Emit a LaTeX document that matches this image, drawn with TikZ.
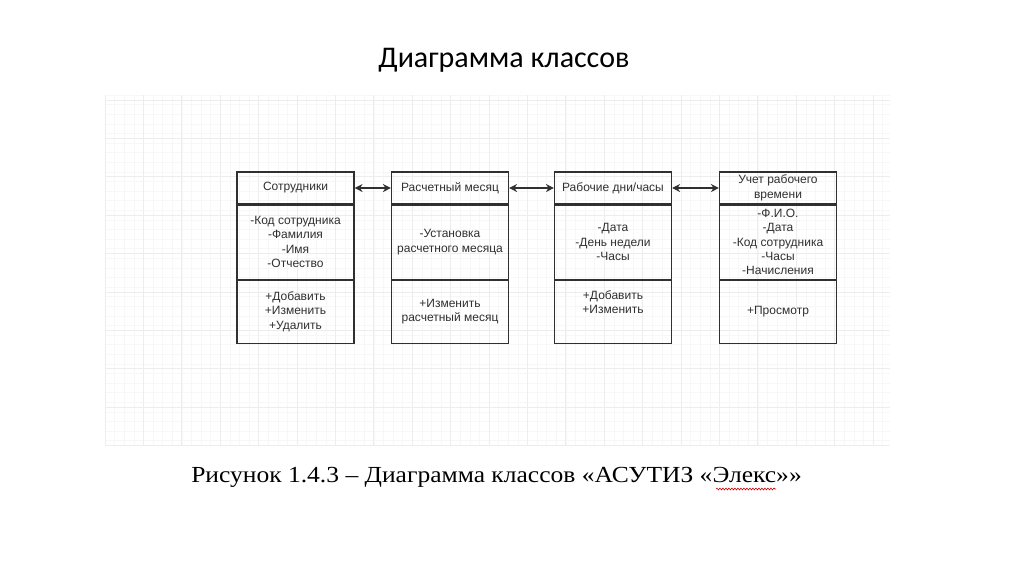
\documentclass[tikz,border=0pt]{standalone}
\usepackage{fontspec}
\setmainfont{Liberation Sans}
\newfontfamily\titlefont{Carlito}
\newfontfamily\capfont{Liberation Serif}
\usetikzlibrary{arrows.meta,decorations.pathmorphing}
\definecolor{ink}{HTML}{303030}
\tikzset{
  comp/.style={draw=ink, line width=1.1pt, minimum width=117pt, inner sep=0pt, align=center,
    font=\fontsize{12}{14.5}\selectfont, text=ink},
  link/.style={draw=ink, line width=1.2pt, {Stealth[length=8pt,width=8pt]}-{Stealth[length=8pt,width=8pt]}},
  minorgrid/.style={draw=black!3, line width=0.5pt},
  majorgrid/.style={draw=black!7, line width=0.7pt}
}
\begin{document}
\begin{tikzpicture}[x=1pt,y=-1pt]
\useasboundingbox[fill=white] (0,0) rectangle (1024,574);
% background grid
\begin{scope}
\clip (105,95) rectangle (890,445);
\foreach \i in {0,...,82} { \draw[minorgrid] (105+\i*9.6,95) -- (105+\i*9.6,445); }
\foreach \i in {0,...,37} { \draw[minorgrid] (105,95+\i*9.6) -- (890,95+\i*9.6); }
\foreach \i in {0,...,21} { \draw[majorgrid] (105+\i*38.4,95) -- (105+\i*38.4,445); }
\foreach \i in {0,...,10} { \draw[majorgrid] (105,100+\i*38.4) -- (890,100+\i*38.4); }
\end{scope}
% title
\node[font=\titlefont\fontsize{30}{34}\selectfont, text=black, anchor=base] (title) at (504,67) {Диаграмма классов};
% box 1
\node[comp, minimum height=32pt] (h1) at (295.5,188) {Сотрудники};
\node[comp, minimum height=74pt, anchor=north] (a1) at (h1.south) {-Код сотрудника\\-Фамилия\\-Имя\\-Отчество};
\node[comp, minimum height=63pt, anchor=north] (m1) at (a1.south) {+Добавить\\+Изменить\\+Удалить};
% box 2
\node[comp, minimum height=32pt] (h2) at (450,188) {Расчетный месяц};
\node[comp, minimum height=74pt, anchor=north] (a2) at (h2.south) {-Установка\\расчетного месяца};
\node[comp, minimum height=63pt, anchor=north] (m2) at (a2.south) {+Изменить\\расчетный месяц};
% box 3
\node[comp, minimum height=32pt] (h3) at (613,188) {Рабочие дни/часы};
\node[comp, minimum height=74pt, anchor=north] (a3) at (h3.south) {-Дата\\-День недели\\-Часы};
\node[comp, minimum height=63pt, anchor=north] (m3) at (a3.south) {+Добавить\\+Изменить\\\strut};
% box 4
\node[comp, minimum height=32pt, font=\fontsize{12}{15}\selectfont] (h4) at (778,188) {Учет рабочего\\времени};
\node[comp, minimum height=74pt, anchor=north, font=\fontsize{12}{14.3}\selectfont] (a4) at (h4.south) {-Ф.И.О.\\-Дата\\-Код сотрудника\\-Часы\\-Начисления};
\node[comp, minimum height=63pt, anchor=north] (m4) at (a4.south) {+Просмотр};
% connectors
\draw[link] (h1.east) -- (h2.west);
\draw[link] (h2.east) -- (h3.west);
\draw[link] (h3.east) -- (h4.west);
% caption
\node[font=\capfont\fontsize{23}{26}\selectfont, text=black, anchor=base, inner sep=0pt] (cap) at (496.5,482) {\scalebox{1.11}[1]{Рисунок 1.4.3 – Диаграмма классов «АСУТИЗ «Элекс»»}};
\coordinate (sqa) at (716,489);
\coordinate (sqb) at (776,489);
\draw[red!80!black, line width=0.6pt, decorate, decoration={snake, amplitude=0.9pt, segment length=3pt}] (sqa) -- (sqb);
\end{tikzpicture}
\end{document}
